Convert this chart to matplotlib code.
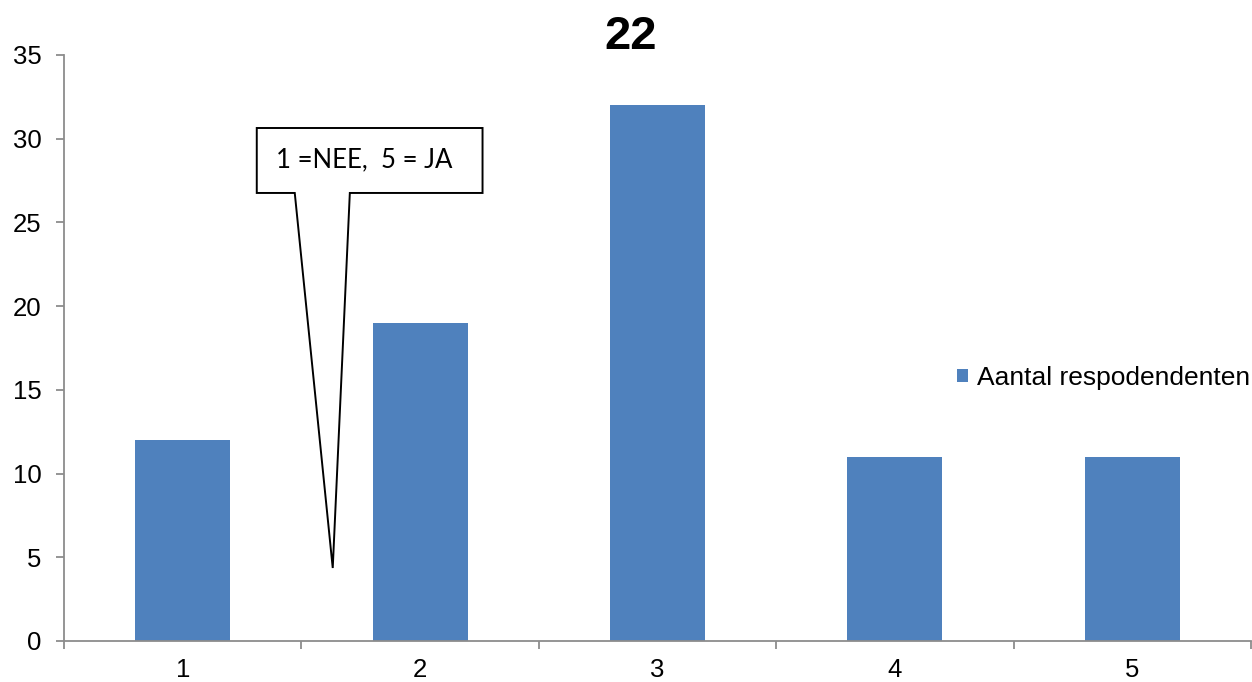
import matplotlib
matplotlib.use("Agg")
import matplotlib.pyplot as plt
from matplotlib.patches import Polygon

categories = ["1", "2", "3", "4", "5"]
values = [12, 19, 32, 11, 11]
series_name = "Aantal respodendenten"
title = "22"
callout_text = "1 =NEE,  5 = JA"
y_ticks = [0, 5, 10, 15, 20, 25, 30, 35]

plt.rcParams['font.family'] = ['Liberation Sans', 'DejaVu Sans']

W, H = 1252, 682
fig = plt.figure(figsize=(W / 100, H / 100), dpi=100)
ax = fig.add_axes([64 / W, 41 / H, (1251 - 64) / W, 586 / H])

x = list(range(len(categories)))
bars = ax.bar(x, values, width=0.4, color="#4F81BD", label=series_name, zorder=2)

ax.set_xlim(-0.5, len(categories) - 0.5)
ax.set_ylim(0, 35)

gray = "#8C8C8C"
for s in ["top", "right"]:
    ax.spines[s].set_visible(False)
for s in ["left", "bottom"]:
    ax.spines[s].set_color(gray)
    ax.spines[s].set_linewidth(1.3)

ax.set_yticks(y_ticks)
ax.set_yticklabels([str(v) for v in y_ticks])
ax.tick_params(axis="y", length=6, width=1.3, color=gray, pad=10, labelsize=18.5, labelcolor="black")

ax.set_xticks(x)
ax.set_xticklabels(categories)
ax.tick_params(axis="x", which="major", length=0, pad=12, labelsize=18.5, labelcolor="black")
ax.set_xticks([i - 0.5 for i in range(len(categories) + 1)], minor=True)
ax.tick_params(axis="x", which="minor", length=6, width=1.3, color=gray)

fig.text(631 / W, 1 - 37 / H, title, ha="center", va="center", fontsize=34, fontweight="bold")

# callout box with pointer (data coordinates)
bx0, bx1 = 0.312, 1.263
by0, by1 = 26.76, 30.64
p0, p1 = 0.472, 0.704
tip = (0.632, 4.36)
poly = Polygon([(bx0, by0), (p0, by0), tip, (p1, by0), (bx1, by0), (bx1, by1), (bx0, by1)],
               closed=True, facecolor="white", edgecolor="black", linewidth=1.4, zorder=3)
ax.add_patch(poly)
ax.text(0.764, 28.73, callout_text, ha="center", va="center", fontsize=18.5,
        family=["Lato", "DejaVu Sans"], zorder=4)

leg = ax.legend(loc="center left", bbox_to_anchor=(957 / W, 1 - 378 / H),
                bbox_transform=fig.transFigure, frameon=False, fontsize=19,
                handlelength=0.42, handleheight=0.42, handletextpad=0.35,
                borderpad=0, borderaxespad=0)

fig.savefig("out.png", dpi=100)
